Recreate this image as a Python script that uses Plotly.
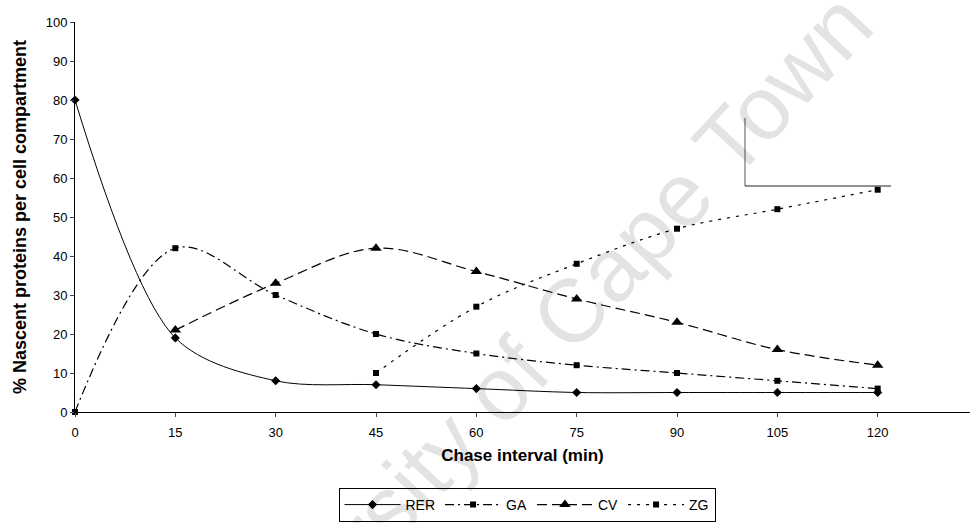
import plotly.graph_objects as go

chase_min = [0, 15, 30, 45, 60, 75, 90, 105, 120]
rer = [80, 19, 8, 7, 6, 5, 5, 5, 5]
ga_x = [0, 15, 30, 45, 60, 75, 90, 105, 120]
ga = [0, 42, 30, 20, 15, 12, 10, 8, 6]
cv_x = [15, 30, 45, 60, 75, 90, 105, 120]
cv = [21, 33, 42, 36, 29, 23, 16, 12]
zg_x = [45, 60, 75, 90, 105, 120]
zg = [10, 27, 38, 47, 52, 57]
x_ticks = [0, 15, 30, 45, 60, 75, 90, 105, 120]
y_ticks = [0, 10, 20, 30, 40, 50, 60, 70, 80, 90, 100]

FONT = "Liberation Sans, Arial, sans-serif"

fig = go.Figure()
fig.add_trace(go.Scatter(x=chase_min, y=rer, name="RER", mode="lines+markers",
                         line=dict(color="black", width=1, shape="spline", smoothing=0.9),
                         marker=dict(symbol="diamond", size=7, color="black"), cliponaxis=False))
fig.add_trace(go.Scatter(x=ga_x, y=ga, name="GA", mode="lines+markers",
                         line=dict(color="black", width=1.2, shape="spline", smoothing=1, dash="9px,4px,2px,4px"),
                         marker=dict(symbol="square", size=6, color="black"), cliponaxis=False))
fig.add_trace(go.Scatter(x=cv_x, y=cv, name="CV", mode="lines+markers",
                         line=dict(color="black", width=1.2, shape="spline", smoothing=1, dash="10px,5px"),
                         marker=dict(symbol="triangle-up", size=10, color="black"), cliponaxis=False))
fig.add_trace(go.Scatter(x=zg_x, y=zg, name="ZG", mode="lines+markers",
                         line=dict(color="black", width=1.2, shape="spline", smoothing=1, dash="3px,6px"),
                         marker=dict(symbol="square", size=6, color="black"), cliponaxis=False))

# scan artifacts (thin lines)
fig.add_shape(type="line", xref="paper", yref="paper", x0=(745-75)/895, x1=(745-75)/895,
              y0=(412-118)/390, y1=(412-186)/390, line=dict(color="#555", width=1))
fig.add_shape(type="line", xref="paper", yref="paper", x0=(745-75)/895, x1=(891-75)/895,
              y0=(412-186)/390, y1=(412-186)/390, line=dict(color="#222", width=1))

# watermark
fig.add_annotation(text="University of Cape Town", xref="paper", yref="paper",
                   x=(524-75)/895, y=(412-362)/390, xanchor="center", yanchor="middle",
                   showarrow=False, textangle=-47,
                   font=dict(family=FONT, size=90, color="rgba(0,0,0,0.11)"))

fig.update_layout(
    width=971, height=523,
    margin=dict(l=75, r=1, t=22, b=111),
    plot_bgcolor="white", paper_bgcolor="white",
    font=dict(family=FONT, color="black", size=13),
    showlegend=True,
    legend=dict(orientation="h", xanchor="center", x=(527-75)/895, yanchor="top", y=(412-488)/390,
                bordercolor="black", borderwidth=1, font=dict(size=14), itemwidth=56,
                tracegroupgap=0),
    xaxis=dict(range=[0, 133.8], tickvals=x_ticks, ticks="outside", ticklen=4,
               showline=True, linecolor="black", linewidth=1, showgrid=False, zeroline=False,
               title=dict(text="<b>Chase interval (min)</b>", font=dict(size=17), standoff=10),
               tickfont=dict(size=13), ticklabelstandoff=4),
    yaxis=dict(range=[0, 100], tickvals=y_ticks, ticks="outside", ticklen=4,
               showline=True, linecolor="black", linewidth=1, showgrid=False, zeroline=False,
               title=dict(text="<b>% Nascent proteins per cell compartment</b>", font=dict(size=18), standoff=14),
               tickfont=dict(size=13)),
)

fig.write_html("out.html")
